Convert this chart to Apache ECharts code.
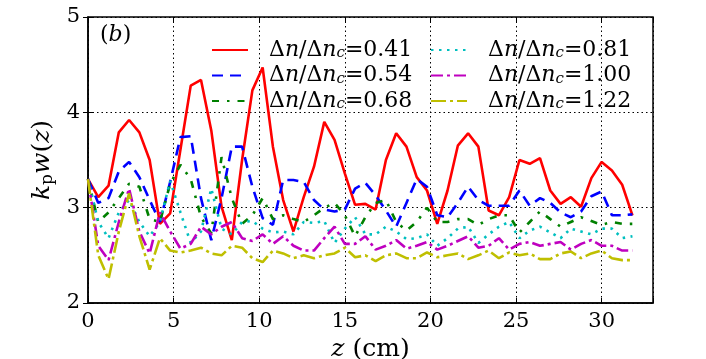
<!DOCTYPE html>
<html>
<head>
<meta charset="UTF-8"/>
<title></title>
<script src="https://cdn.jsdelivr.net/npm/echarts@6/dist/echarts.min.js"></script>
<style>
html,body{margin:0;padding:0;background:#fff;}
#chart{width:706px;height:359px;}
</style>
</head>
<body>
<div id="chart"></div>
<script type="text/javascript">
// z positions (cm)
var zPos = [0, 0.6, 1.2, 1.8, 2.4, 3.0, 3.6, 4.2, 4.8, 5.4,
  6.0, 6.6, 7.2, 7.8, 8.4, 9.0, 9.6, 10.2, 10.8, 11.4,
  12.0, 12.6, 13.2, 13.8, 14.4, 15.0, 15.6, 16.2, 16.8, 17.4,
  18.0, 18.6, 19.2, 19.8, 20.4, 21.0, 21.6, 22.2, 22.8, 23.4,
  24.0, 24.6, 25.2, 25.8, 26.4, 27.0, 27.6, 28.2, 28.8, 29.4,
  30.0, 30.6, 31.2, 31.8];

// k_p w(z) for each density ratio
var w041 = [3.30, 3.11, 3.23, 3.79, 3.92, 3.79, 3.50, 2.83, 2.94, 3.61,
  4.28, 4.34, 3.81, 3.01, 2.66, 3.50, 4.23, 4.47, 3.64, 3.08,
  2.75, 3.11, 3.43, 3.90, 3.71, 3.36, 3.03, 3.04, 2.98, 3.50,
  3.78, 3.64, 3.32, 3.18, 2.83, 3.18, 3.65, 3.78, 3.64, 2.97,
  2.92, 3.11, 3.50, 3.46, 3.52, 3.18, 3.04, 3.11, 3.01, 3.31,
  3.48, 3.39, 3.24, 2.92];
var w054 = [3.30, 3.05, 3.10, 3.38, 3.48, 3.32, 3.08, 2.85, 3.27, 3.74,
  3.75, 3.10, 2.66, 3.10, 3.64, 3.64, 3.22, 2.89, 2.82, 3.29,
  3.29, 3.27, 3.08, 2.98, 2.96, 2.98, 3.20, 3.26, 3.13, 2.97,
  2.80, 3.05, 3.30, 3.22, 2.92, 2.90, 3.05, 3.22, 3.08, 3.02,
  3.02, 3.02, 3.18, 3.02, 3.10, 3.05, 2.95, 2.90, 2.96, 3.12,
  3.17, 2.92, 2.92, 2.93];
var w068 = [3.30, 2.85, 2.95, 3.10, 3.25, 3.22, 2.88, 2.85, 3.25, 3.45,
  3.30, 2.90, 2.73, 3.53, 3.10, 2.83, 2.92, 3.10, 2.88, 2.92,
  2.88, 2.85, 2.92, 3.00, 3.05, 2.92, 2.70, 2.90, 3.05, 3.08,
  2.85, 2.76, 2.85, 3.00, 2.85, 2.85, 2.88, 2.88, 2.82, 2.88,
  2.92, 2.92, 2.74, 2.85, 2.96, 2.88, 2.80, 2.85, 2.90, 2.86,
  2.82, 2.85, 2.83, 2.83];
var w081 = [3.30, 2.85, 2.68, 2.95, 3.08, 2.85, 2.70, 2.85, 3.28, 2.95,
  2.63, 2.75, 3.20, 2.78, 2.72, 2.85, 2.86, 2.78, 2.74, 2.75,
  2.72, 2.85, 2.84, 2.86, 2.63, 2.78, 2.90, 2.72, 2.72, 2.80,
  2.75, 2.67, 2.68, 2.72, 2.60, 2.68, 2.78, 2.80, 2.63, 2.72,
  2.80, 2.85, 2.68, 2.76, 2.80, 2.74, 2.68, 2.78, 2.75, 2.72,
  2.78, 2.78, 2.68, 2.70];
var w100 = [3.30, 2.60, 2.45, 2.85, 3.20, 2.75, 2.52, 2.95, 2.75, 2.57,
  2.62, 2.80, 2.72, 2.80, 2.85, 2.68, 2.65, 2.72, 2.62, 2.70,
  2.60, 2.55, 2.55, 2.68, 2.80, 2.62, 2.62, 2.70, 2.56, 2.60,
  2.66, 2.57, 2.60, 2.64, 2.56, 2.60, 2.65, 2.70, 2.58, 2.60,
  2.68, 2.56, 2.62, 2.64, 2.60, 2.62, 2.64, 2.56, 2.62, 2.66,
  2.60, 2.60, 2.55, 2.55];
var w122 = [3.30, 2.50, 2.25, 2.75, 3.15, 2.70, 2.35, 2.68, 2.55, 2.53,
  2.55, 2.58, 2.52, 2.50, 2.60, 2.58, 2.47, 2.43, 2.55, 2.52,
  2.47, 2.50, 2.47, 2.50, 2.52, 2.58, 2.48, 2.50, 2.44, 2.50,
  2.52, 2.47, 2.47, 2.53, 2.48, 2.50, 2.52, 2.46, 2.50, 2.55,
  2.47, 2.53, 2.50, 2.52, 2.46, 2.46, 2.52, 2.54, 2.47, 2.52,
  2.55, 2.47, 2.45, 2.45];

var ratios = ['0.41', '0.54', '0.68', '0.81', '1.00', '1.22'];
var values = [w041, w054, w068, w081, w100, w122];
var colors = ['#ff0000', '#0000ff', '#008000', '#00bfbf', '#bf00bf', '#bfbf00'];
var dashes = ['solid', [11, 7], [7, 8, 2.5, 8], [2.5, 5.5], [12, 4, 3, 4], [15, 4, 3, 4]];

var serif = 'DejaVu Serif';

function pairs(v) {
  var out = [];
  for (var i = 0; i < v.length; i++) out.push([zPos[i], v[i]]);
  return out;
}

var series = [];
for (var k = 0; k < ratios.length; k++) {
  series.push({
    name: ratios[k],
    type: 'line',
    data: pairs(values[k]),
    symbol: 'none',
    smooth: false,
    animation: false,
    lineStyle: { color: colors[k], width: 2.6, type: dashes[k] },
    itemStyle: { color: colors[k] }
  });
}

var legendRich = {
  g: { width: 16, lineHeight: 22 },
  a: { fontFamily: serif, fontSize: 22, color: '#000', lineHeight: 22, verticalAlign: 'middle' },
  i: { fontFamily: serif, fontSize: 22, fontStyle: 'italic', color: '#000', lineHeight: 22, verticalAlign: 'middle' },
  s: { fontFamily: serif, fontSize: 15, fontStyle: 'italic', color: '#000', lineHeight: 8, verticalAlign: 'bottom' }
};
function legendText(name) {
  return '{g|}{a|Δ}{i|n}{a|/Δ}{i|n}{s|c}{a|=' + name + '}';
}

var myChart = echarts.init(document.getElementById('chart'));
var option = {
  backgroundColor: '#fff',
  animation: false,
  grid: { left: 88, right: 53, top: 17, bottom: 56, outerBoundsMode: 'none',
    show: true, borderColor: '#000', borderWidth: 1.5 },
  legend: [
    {
      data: ratios.slice(0, 3), orient: 'vertical', left: 206, top: 34,
      itemWidth: 36, itemHeight: 14, itemGap: 3.5,
      itemStyle: { opacity: 0 },
      formatter: legendText, textStyle: { rich: legendRich }
    },
    {
      data: ratios.slice(3), orient: 'vertical', left: 425, top: 34,
      itemWidth: 36, itemHeight: 14, itemGap: 3.5,
      itemStyle: { opacity: 0 },
      formatter: legendText, textStyle: { rich: legendRich }
    }
  ],
  xAxis: [{
    type: 'value', min: 0, max: 33, interval: 5,
    name: '{i|z} (cm)', nameLocation: 'middle', nameGap: 32,
    nameTextStyle: { fontFamily: serif, fontSize: 25, color: '#000',
      rich: { i: { fontFamily: serif, fontSize: 25, fontStyle: 'italic', color: '#000' } } },
    axisLine: { lineStyle: { color: '#000', width: 1.5 } },
    axisTick: { inside: true, length: 5, lineStyle: { color: '#000' } },
    axisLabel: { fontFamily: serif, fontSize: 21, color: '#000', margin: 8,
      formatter: function (v) { return v % 5 === 0 ? String(v) : ''; } },
    splitLine: { show: true, lineStyle: { color: '#000', width: 1, type: [1.5, 3] } }
  }, {
    type: 'value', min: 0, max: 33, interval: 5, position: 'top',
    axisLine: { show: false }, axisLabel: { show: false }, splitLine: { show: false },
    axisTick: { inside: true, length: 5, lineStyle: { color: '#000' } }
  }],
  yAxis: [{
    type: 'value', min: 2, max: 5, interval: 1,
    name: '{i|k}{s|p}{i|w}{a|(}{i|z}{a|)}', nameLocation: 'middle', nameGap: 26, nameRotate: 90,
    nameTextStyle: { rich: {
      i: { fontFamily: serif, fontSize: 25, fontStyle: 'italic', color: '#000', lineHeight: 26, verticalAlign: 'middle' },
      a: { fontFamily: serif, fontSize: 25, color: '#000', lineHeight: 26, verticalAlign: 'middle' },
      s: { fontFamily: serif, fontSize: 17, color: '#000', lineHeight: 8, verticalAlign: 'bottom' }
    } },
    axisLine: { lineStyle: { color: '#000', width: 1.5 } },
    axisTick: { inside: true, length: 5, lineStyle: { color: '#000' } },
    axisLabel: { fontFamily: serif, fontSize: 21, color: '#000', margin: 8 },
    splitLine: { show: true, lineStyle: { color: '#000', width: 1, type: [1.5, 3] } }
  }, {
    type: 'value', min: 2, max: 5, interval: 1, position: 'right',
    axisLine: { show: false }, axisLabel: { show: false }, splitLine: { show: false },
    axisTick: { inside: true, length: 5, lineStyle: { color: '#000' } }
  }],
  graphic: [{
    type: 'text', left: 100, top: 24,
    style: { text: '({b|b})', fontFamily: serif, fontSize: 22, fill: '#000',
      rich: { b: { fontFamily: serif, fontSize: 22, fontStyle: 'italic', fill: '#000' } } }
  }],
  series: series
};
myChart.setOption(option);
</script>
</body>
</html>
